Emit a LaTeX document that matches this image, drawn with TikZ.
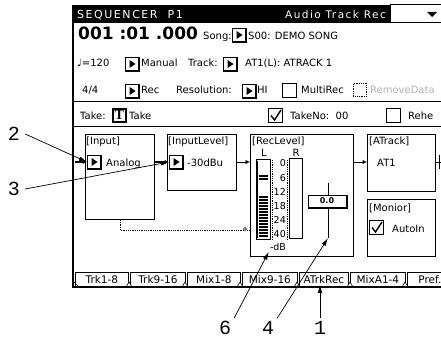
\documentclass[tikz,border=0pt]{standalone}
\usepackage{fontspec}
\setmainfont{DejaVu Sans}
\newfontfamily\calloutfont{Liberation Mono}
\newfontfamily\serifbold{Liberation Serif}
\newfontfamily\widefont[LetterSpace=14]{DejaVu Sans}
\usetikzlibrary{arrows.meta}

\tikzset{
  ui/.style={inner sep=0pt, anchor=base west, font=\fontsize{10}{12}\selectfont},
  panel/.style={draw, line width=1pt, anchor=north west, inner sep=0pt},
  btnbox/.style={draw, line width=1pt, anchor=north west, minimum size=13pt, inner sep=0pt, fill=white},
  callout/.style={font=\calloutfont\fontsize{20}{22}\selectfont, inner sep=1pt},
  pointer/.style={-{Latex[length=8pt,width=4.5pt]}, line width=0.7pt},
  link/.style={-{Latex[length=4.5pt,width=4.5pt]}, line width=1.1pt},
  tabcard/.style={draw, line width=0.8pt, anchor=north west, minimum height=15pt, inner sep=0pt, font=\fontsize{10.5}{12}\selectfont},
}

% button with a play triangle and a shadow
\newcommand{\playbox}[3]{%
  \node[btnbox] (#1) at (#2,#3) {};
  \draw[line width=1.2pt] ([xshift=0.8pt,yshift=-0.4pt]#1.north east) -- ([xshift=0.8pt,yshift=-0.8pt]#1.south east) -- ([xshift=0.4pt,yshift=-0.8pt]#1.south west);
  \fill ([shift={(-2.5pt,4pt)}]#1.center) -- ([shift={(-2.5pt,-4pt)}]#1.center) -- ([shift={(3.5pt,0pt)}]#1.center) -- cycle;}

% check box, #4=1 for ticked
\newcommand{\tickbox}[4]{%
  \node[btnbox, minimum size=14pt] (#1) at (#2,#3) {};
  \ifnum#4=1 \draw[line width=1.4pt] ([shift={(-4.5pt,0pt)}]#1.center) -- ([shift={(-1pt,-4.5pt)}]#1.center) -- ([shift={(5.5pt,5.5pt)}]#1.center);\fi}

\begin{document}
\begin{tikzpicture}[x=1pt, y=-1pt]
 \clip (0,0) rectangle (441,339);
 \fill[white] (0,0) rectangle (441,339);
 % title bar
 \fill (73,5) rectangle (390,23);
 \node[ui, text=white, font=\widefont\fontsize{11}{12}\selectfont] (title) at (77,19) {SEQUENCER\ \ P1};
 \node[ui, anchor=base east, text=white, font=\widefont\fontsize{10.5}{12}\selectfont] (mode) at (386,19) {Audio Track Rec};
 \draw[line width=1pt, fill=white] (390,5) rectangle (450,23);
 \fill (427,12) -- (437,12) -- (432,17) -- cycle;

 % locate row
 \node[ui, font=\bfseries\fontsize{17}{18}\selectfont] (loc) at (78,40) {001 :01 .000};
 \node[ui] (songlbl) at (203,40) {Song:};
 \playbox{songbtn}{232}{28}
 \node[ui] (song) at (248,40) {S00: DEMO SONG};

 % tempo row
 \node[ui] (tempo) at (77,67) {♩=120};
 \playbox{tempobtn}{125}{57}
 \node[ui] (tempomode) at (141,67) {Manual};
 \node[ui] (tracklbl) at (188,67) {Track:};
 \playbox{trackbtn}{223}{57}
 \node[ui] (track) at (245,67) {AT1(L): ATRACK 1};

 % meter row
 \node[ui] (beat) at (82,94) {4/4};
 \playbox{recbtn}{125}{84}
 \node[ui] (recmode) at (141,94) {Rec};
 \node[ui] (reslbl) at (176,94) {Resolution:};
 \playbox{resbtn}{242}{84}
 \node[ui] (res) at (257,94) {HI};
 \tickbox{multibox}{282}{83}{0}
 \node[ui] (multi) at (301,94) {MultiRec};
 \node[draw, densely dotted, line width=0.8pt, anchor=north west, minimum size=13pt, inner sep=0pt] (rmbox) at (353,83) {};
 \node[ui, text=gray!60] (rm) at (370,94) {RemoveData};
 \draw[line width=1pt] (73,102) -- (441,102);

 % take row
 \node[ui] (takelbl) at (80,120) {Take:};
 \node[btnbox, line width=1.6pt, font=\serifbold\bfseries\fontsize{14}{14}\selectfont] (takebtn) at (112,108) {T};
 \node[ui] (take) at (129,120) {Take};
 \tickbox{takenobox}{268}{108}{1}
 \node[ui] (takeno) at (290,120) {TakeNo:\ \ 00};
 \tickbox{rehebox}{386}{108}{0}
 \node[ui] (rehe) at (408,120) {Rehe};
 \draw[line width=1pt] (73,127) -- (441,127);

 % blocks
 \node[panel, minimum width=69, minimum height=85] (inbox) at (85,134) {};
 \node[panel, minimum width=69, minimum height=56] (levbox) at (167,134) {};
 \node[panel, minimum width=103, minimum height=122] (recbox) at (250,134) {};
 \node[panel, minimum width=68, minimum height=57] (trkbox) at (367,134) {};
 \node[panel, minimum width=68, minimum height=57] (monbox) at (367,199) {};
 \node[ui] (inlbl) at (86,145) {[Input]};
 \node[ui] (levlbl) at (168,145) {[InputLevel]};
 \node[ui] (reclbl) at (252,145) {[RecLevel]};
 \node[ui] (trklbl) at (369,145) {[ATrack]};
 \node[ui] (monlbl) at (369,211) {[Monior]};
 \playbox{inplay}{87}{155}
 \node[ui] (insrc) at (106,166) {Analog};
 \playbox{levplay}{169}{155}
 \node[ui] (levval) at (187,166) {-30dBu};
 \node[ui] (trkval) at (377,166) {AT1};
 \tickbox{autobox}{369}{220}{1}
 \node[ui] (autoin) at (392,232) {AutoIn};

 % level meter
 \node[ui, anchor=base] (lch) at (264,157) {L};
 \node[ui, anchor=base] (rch) at (296,157) {R};
 \draw[line width=1pt] (256,160) rectangle (270,239);
 \draw[line width=1pt] (257,161) -- (257,238);
 \foreach \y in {176,179}
   \draw[line width=1.3pt] (259,\y) -- (268,\y);
 \foreach \y in {197,200,...,236}
   \draw[line width=1.3pt] (259,\y) -- (268,\y);
 \draw[densely dotted, line width=0.8pt] (272,160) -- (272,240);
 \draw[densely dotted, line width=0.8pt] (287,160) -- (287,240);
 \draw[line width=1pt] (289,159) rectangle (302,238);
 \foreach \v/\y in {0/163, 6/178, 12/192, 18/206, 24/220, 40/234}
   \node[inner sep=0pt, anchor=east, font=\fontsize{9.5}{10}\selectfont] (db\v) at (286,\y) {\v};
 \node[inner sep=1pt, font=\fontsize{9.5}{10}\selectfont] (dbunit) at (278,247) {-dB};

 % fader
 \coordinate (fadertop) at (328,183);
 \coordinate (faderbot) at (328,238);
 \draw[line width=1pt] (fadertop) -- (faderbot);
 \node[draw, line width=1pt, fill=white, minimum width=38, minimum height=12, inner sep=0pt, font=\bfseries\fontsize{8}{9}\selectfont] (faderval) at (327,201) {0.0};
 \draw[line width=1.3pt] ([xshift=0.8pt]faderval.north east) -- ([xshift=0.8pt,yshift=-0.8pt]faderval.south east) -- ([yshift=-0.8pt]faderval.south west);

 % signal flow
 \coordinate (inlet) at (75,162);
 \draw[link] (inlet) -- (inplay.west);
 \draw[link] (inbox.east |- levplay.west) -- (levplay.west);
 \draw[link, line width=0.8pt] (levbox.east |- levplay.west) -- (recbox.west |- levplay.west);
 \draw[link, line width=0.8pt] (recbox.east |- levplay.west) -- (trkbox.west |- levplay.west);
 \draw[line width=0.8pt] (trkbox.east |- levplay.west) -- ++(8,0);
 \draw[line width=1pt] ([xshift=3pt]trkbox.east |- inplay.north) -- ([xshift=3pt]trkbox.east |- inplay.south);
 \draw[densely dotted, line width=0.8pt] (inbox.south) -- ++(0,10) coordinate (dbend) -- (dbend -| recbox.west);
 \fill[gray] (245,229) +(-2.5,0) -- +(0,-2.5) -- +(2.5,0) -- +(0,2.5) -- cycle;

 % tabs
 \foreach \name/\x/\w/\lbl in {tab1/75/53/Trk1-8, tab2/130/55/Trk9-16, tab3/187/53/Mix1-8, tab4/242/55/Mix9-16, tab5/299/49/ATrkRec, tab6/350/55/MixA1-4, tab7/407/45/Pref.}
   \node[tabcard, minimum width=\w] (\name) at (\x,272) {\lbl};
 \foreach \x in {129,185,240,297,350,405}
   \draw[line width=0.6pt, fill=white] (\x-3,287) -- (\x,282) -- (\x+3,287);
 \draw[line width=0.6pt] (74,282) -- (79,287);
 \draw[line width=2pt] (72,287) -- (441,287);
 \draw[line width=2pt] (73,5) -- (73,288);

 % callouts
 \node[callout] (n2) at (14,134) {2};
 \node[callout] (n3) at (14,189) {3};
 \node[callout] (n6) at (225,328) {6};
 \node[callout] (n4) at (268,328) {4};
 \node[callout] (n1) at (320,328) {1};
 \draw[pointer] ([xshift=4pt]n2.east) -- (inplay.west);
 \draw[pointer] ([xshift=4pt]n3.east) -- (levplay.west);
 \draw[pointer] ([shift={(2pt,2pt)}]n6.north east) -- (dbunit.south west);
 \draw[pointer] ([shift={(2pt,2pt)}]n4.north east) -- (faderbot);
 \draw[pointer, shorten >=-3pt] ([yshift=2pt]n1.north) -- (n1.north |- tab5.south);
\end{tikzpicture}
\end{document}
